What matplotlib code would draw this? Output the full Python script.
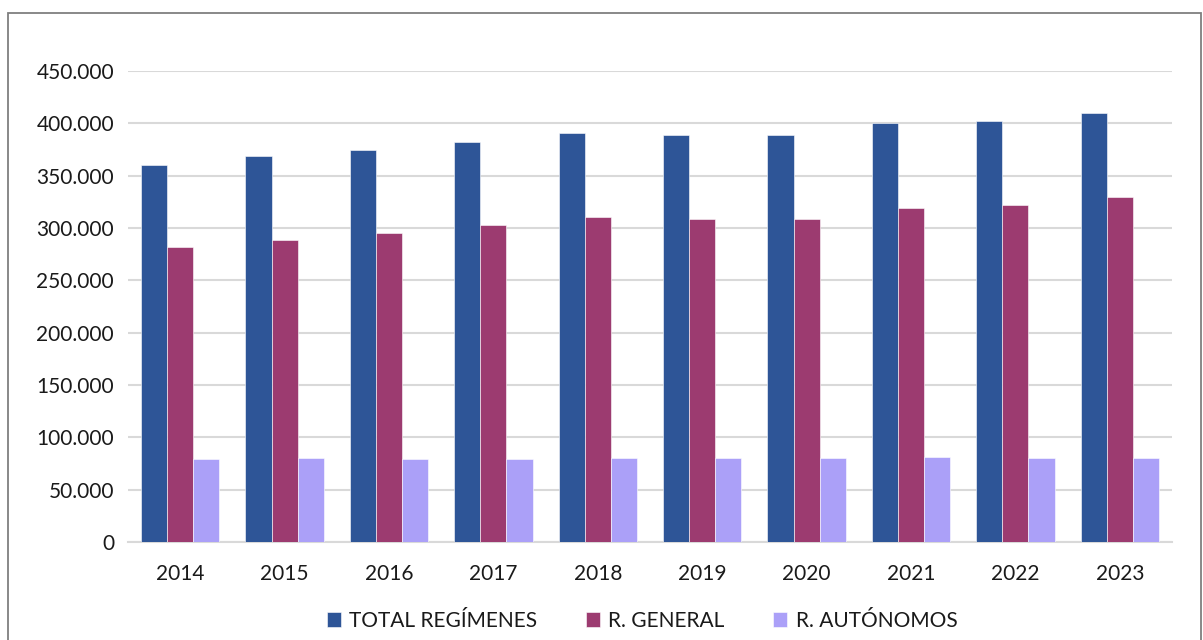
import numpy as np
import matplotlib
matplotlib.use('Agg')
import matplotlib.pyplot as plt
from matplotlib.patches import Rectangle
from matplotlib.ticker import FuncFormatter

years = ['2014', '2015', '2016', '2017', '2018', '2019', '2020', '2021', '2022', '2023']
total = [360000, 368500, 374400, 382500, 390600, 389000, 388700, 400200, 402100, 409800]
general = [281500, 288500, 294900, 302800, 310300, 308300, 308600, 319200, 321800, 329400]
autonomos = [79100, 80100, 79400, 79400, 80700, 80700, 79800, 81300, 80400, 80400]
series_names = ['TOTAL REGÍMENES', 'R. GENERAL', 'R. AUTÓNOMOS']
colors = ['#2e5597', '#9c3b70', '#aba0f8']

plt.rcParams['font.family'] = ['Lato', 'DejaVu Sans']

W, H = 1203, 640
fig = plt.figure(figsize=(W / 100, H / 100), dpi=100)
ax = fig.add_axes([128 / W, 1 - 542 / H, (1172 - 128) / W, (542 - 71) / H])

x = np.arange(len(years))
w = 0.25
for i, (vals, name) in enumerate(zip([total, general, autonomos], series_names)):
    ax.bar(x + (i - 1) * w, vals, w, color=colors[i], label=name,
           edgecolor='white', linewidth=0.4, zorder=3)

ax.set_xlim(-0.5, len(years) - 0.5)
ax.set_ylim(0, 450000)
ax.set_yticks(np.arange(0, 450001, 50000))
ax.yaxis.set_major_formatter(FuncFormatter(lambda v, p: '0' if v == 0 else f'{int(v):,}'.replace(',', '.')))
ax.set_xticks(x)
ax.set_xticklabels(years)
ax.grid(axis='y', color='#d9d9d9', linewidth=1.5, zorder=0)
for s in ['top', 'right', 'left']:
    ax.spines[s].set_visible(False)
ax.spines['bottom'].set_color('#d9d9d9')
ax.spines['bottom'].set_linewidth(1.5)
ax.tick_params(axis='both', length=0, labelsize=15, colors='#1a1a1a')
ax.tick_params(axis='y', pad=10)
ax.tick_params(axis='x', pad=16)

fig.legend(loc='center', bbox_to_anchor=(642 / W, 1 - 621 / H), ncol=3, frameon=False,
           fontsize=15, handlelength=0.7, handleheight=0.7, handletextpad=0.4,
           columnspacing=2.3, labelcolor='#1a1a1a')

fig.patches.append(Rectangle((8 / W, -0.05), (1201 - 8) / W, 1.05 - 13 / H,
                             transform=fig.transFigure, fill=False,
                             edgecolor='#7f7f7f', linewidth=1.3))

fig.savefig('out.png', dpi=100)
